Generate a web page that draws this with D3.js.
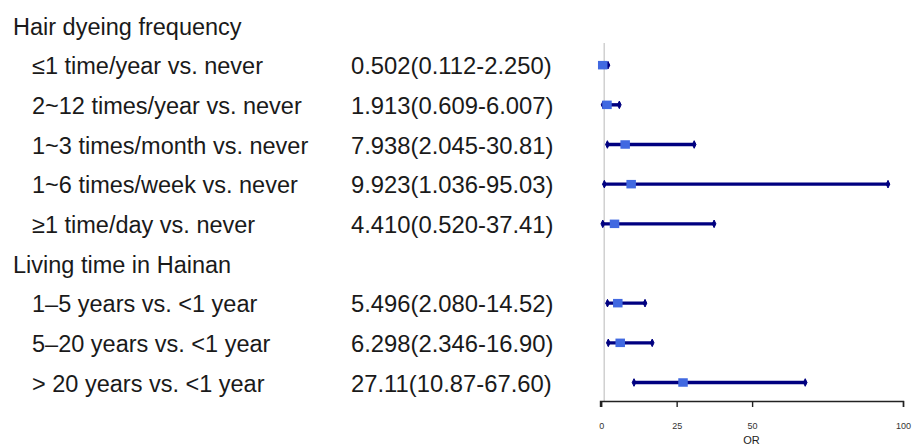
<!DOCTYPE html>
<html>
<head>
<meta charset="utf-8">
<script src="https://cdn.jsdelivr.net/npm/d3@7"></script>
<style>
  html, body { margin: 0; padding: 0; background: #fff; }
  svg { display: block; }
</style>
</head>
<body>
<svg id="chart" width="912" height="446"></svg>
<script>
const rowLabels = [
  "Hair dyeing frequency",
  "≤1 time/year vs. never",
  "2~12 times/year vs. never",
  "1~3 times/month vs. never",
  "1~6 times/week vs. never",
  "≥1 time/day vs. never",
  "Living time in Hainan",
  "1–5 years vs. <1 year",
  "5–20 years vs. <1 year",
  "> 20 years vs. <1 year"
];
const rowIsHeader = [true, false, false, false, false, false, true, false, false, false];
const orText = [
  "",
  "0.502(0.112-2.250)",
  "1.913(0.609-6.007)",
  "7.938(2.045-30.81)",
  "9.923(1.036-95.03)",
  "4.410(0.520-37.41)",
  "",
  "5.496(2.080-14.52)",
  "6.298(2.346-16.90)",
  "27.11(10.87-67.60)"
];
const orValue = [null, 0.502, 1.913, 7.938, 9.923, 4.410, null, 5.496, 6.298, 27.11];
const ciLow   = [null, 0.112, 0.609, 2.045, 1.036, 0.520, null, 2.080, 2.346, 10.87];
const ciHigh  = [null, 2.250, 6.007, 30.81, 95.03, 37.41, null, 14.52, 16.90, 67.60];
const xTicks = [0, 25, 50, 100];
const refValue = 1;
const axisTitle = "OR";

const svg = d3.select("#chart");
const fontFamily = "'Liberation Sans', Arial, sans-serif";

const x = d3.scaleLinear().domain([-0.4, 100]).range([600, 903]);
const y = d3.scalePoint().domain(d3.range(rowLabels.length)).range([25, 382]);
const axisY = 401;

// reference line
svg.append("line")
  .attr("x1", x(refValue)).attr("x2", x(refValue))
  .attr("y1", 43).attr("y2", axisY)
  .attr("stroke", "#d0d0d0").attr("stroke-width", 1.5);

// labels
const rows = d3.range(rowLabels.length);
svg.selectAll("text.label").data(rows).enter().append("text")
  .attr("class", "label")
  .attr("x", i => rowIsHeader[i] ? 13 : 32)
  .attr("y", i => y(i) + 9.5)
  .attr("font-family", fontFamily)
  .attr("font-size", "23.5px")
  .attr("fill", "#1a1a1a")
  .text(i => rowLabels[i]);

svg.selectAll("text.ortext").data(rows.filter(i => orText[i])).enter().append("text")
  .attr("class", "ortext")
  .attr("x", 351)
  .attr("y", i => y(i) + 9.5)
  .attr("font-family", fontFamily)
  .attr("font-size", "23.8px")
  .attr("fill", "#1a1a1a")
  .text(i => orText[i]);

// CI lines
const dataRows = rows.filter(i => orValue[i] !== null);
const g = svg.append("g");
g.selectAll("line.ci").data(dataRows).enter().append("line")
  .attr("x1", i => x(ciLow[i])).attr("x2", i => x(ciHigh[i]))
  .attr("y1", i => y(i) + 0.5).attr("y2", i => y(i) + 0.5)
  .attr("stroke", "#000080").attr("stroke-width", 3.4);

// caps
const capPath = (cx, cy) => `M${cx},${cy - 3.8} L${cx + 1.8},${cy} L${cx},${cy + 3.8} L${cx - 1.8},${cy} Z`;
dataRows.forEach(i => {
  [ciLow[i], ciHigh[i]].forEach(v => {
    g.append("path")
      .attr("d", capPath(x(v), y(i) + 0.5))
      .attr("fill", "#000080")
      .attr("stroke", "#000080").attr("stroke-width", 1);
  });
});

// boxes
g.selectAll("rect.box").data(dataRows).enter().append("rect")
  .attr("x", i => x(orValue[i]) - 4.75)
  .attr("y", i => y(i) + 0.5 - 4.25)
  .attr("width", 9.5).attr("height", 8.5)
  .attr("fill", "#4169E1");

// axis
const axis = d3.axisBottom(x).tickValues(xTicks).tickSize(6).tickSizeOuter(6).tickFormat(d3.format("d"));
const ag = svg.append("g").attr("transform", `translate(0,${axisY})`).call(axis);
ag.select(".domain").attr("stroke", "#222").attr("stroke-width", 1.4);
ag.selectAll(".tick line").attr("stroke", "#222").attr("stroke-width", 1.4);
ag.selectAll(".tick text")
  .attr("font-family", fontFamily).attr("font-size", "9px").attr("fill", "#333")
  .attr("dy", "0").attr("y", 28);

svg.append("text")
  .attr("x", 751.5).attr("y", 444)
  .attr("text-anchor", "middle")
  .attr("font-family", fontFamily).attr("font-size", "11px").attr("fill", "#222")
  .text(axisTitle);
</script>
</body>
</html>
